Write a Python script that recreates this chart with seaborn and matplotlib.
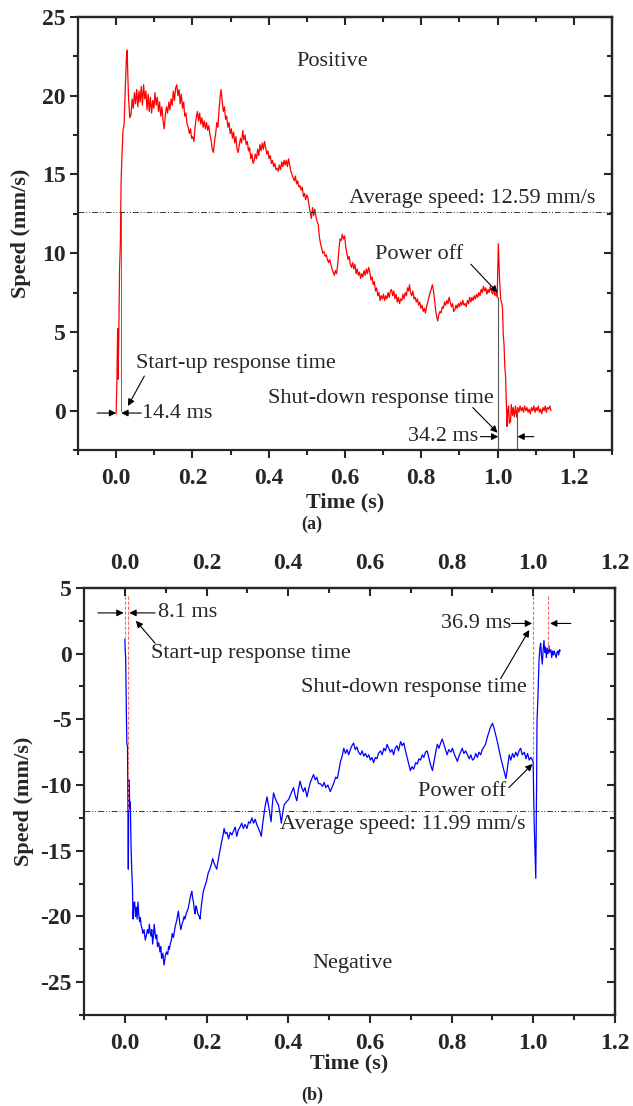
import matplotlib
matplotlib.use('Agg')
import matplotlib.pyplot as plt
from matplotlib.ticker import MultipleLocator
import seaborn as sns

# positive run (red)
red_t = [0.000, 0.002, 0.004, 0.005, 0.007, 0.009, 0.011, 0.013, 0.015, 0.018, 0.021, 0.024, 0.027, 0.029, 0.031,
         0.033, 0.036, 0.039, 0.042, 0.045, 0.048, 0.051, 0.054, 0.057, 0.060, 0.063, 0.066, 0.069, 0.072, 0.075,
         0.078, 0.081, 0.084, 0.087, 0.090, 0.093, 0.096, 0.099, 0.102, 0.105, 0.108, 0.111, 0.114, 0.117, 0.120,
         0.123, 0.126, 0.129, 0.132, 0.135, 0.138, 0.141, 0.144, 0.147, 0.150, 0.153, 0.156, 0.159, 0.162, 0.165,
         0.168, 0.171, 0.174, 0.177, 0.180, 0.183, 0.186, 0.189, 0.192, 0.195, 0.198, 0.201, 0.204, 0.207, 0.210,
         0.213, 0.216, 0.219, 0.222, 0.225, 0.228, 0.231, 0.234, 0.237, 0.240, 0.243, 0.246, 0.249, 0.252, 0.255,
         0.258, 0.261, 0.264, 0.267, 0.270, 0.273, 0.275, 0.278, 0.281, 0.284, 0.287, 0.290, 0.293, 0.296, 0.299,
         0.302, 0.305, 0.308, 0.311, 0.314, 0.317, 0.320, 0.323, 0.326, 0.329, 0.332, 0.335, 0.338, 0.341, 0.344,
         0.347, 0.350, 0.353, 0.356, 0.359, 0.362, 0.365, 0.368, 0.371, 0.374, 0.377, 0.380, 0.383, 0.386, 0.389,
         0.392, 0.395, 0.398, 0.401, 0.404, 0.407, 0.410, 0.413, 0.416, 0.419, 0.422, 0.425, 0.428, 0.431, 0.434,
         0.437, 0.440, 0.443, 0.446, 0.449, 0.452, 0.455, 0.458, 0.461, 0.464, 0.467, 0.470, 0.473, 0.476, 0.479,
         0.482, 0.485, 0.488, 0.491, 0.494, 0.497, 0.500, 0.503, 0.506, 0.509, 0.512, 0.515, 0.518, 0.521, 0.524,
         0.527, 0.530, 0.533, 0.536, 0.539, 0.542, 0.545, 0.548, 0.551, 0.554, 0.557, 0.560, 0.563, 0.566, 0.569,
         0.572, 0.575, 0.578, 0.581, 0.584, 0.587, 0.590, 0.593, 0.596, 0.599, 0.602, 0.605, 0.608, 0.611, 0.614,
         0.617, 0.620, 0.623, 0.626, 0.629, 0.632, 0.635, 0.638, 0.641, 0.644, 0.647, 0.650, 0.653, 0.656, 0.659,
         0.662, 0.665, 0.668, 0.671, 0.674, 0.677, 0.680, 0.683, 0.686, 0.689, 0.692, 0.695, 0.698, 0.701, 0.704,
         0.707, 0.710, 0.713, 0.716, 0.719, 0.722, 0.725, 0.728, 0.731, 0.734, 0.737, 0.740, 0.743, 0.746, 0.749,
         0.752, 0.755, 0.758, 0.761, 0.764, 0.767, 0.769, 0.772, 0.775, 0.778, 0.781, 0.784, 0.787, 0.790, 0.793,
         0.796, 0.799, 0.802, 0.805, 0.808, 0.811, 0.814, 0.817, 0.820, 0.823, 0.826, 0.829, 0.832, 0.835, 0.838,
         0.841, 0.843, 0.846, 0.849, 0.852, 0.855, 0.858, 0.861, 0.864, 0.867, 0.870, 0.873, 0.876, 0.879, 0.882,
         0.885, 0.888, 0.891, 0.894, 0.897, 0.900, 0.903, 0.906, 0.909, 0.912, 0.915, 0.918, 0.921, 0.924, 0.927,
         0.930, 0.933, 0.936, 0.939, 0.942, 0.945, 0.948, 0.951, 0.954, 0.957, 0.960, 0.963, 0.966, 0.969, 0.972,
         0.975, 0.978, 0.981, 0.984, 0.987, 0.990, 0.993, 0.996, 0.999, 1.002, 1.005, 1.008, 1.011, 1.013, 1.015,
         1.017, 1.019, 1.021, 1.023, 1.025, 1.027, 1.029, 1.031, 1.034, 1.036, 1.039, 1.041, 1.044, 1.047, 1.050,
         1.053, 1.056, 1.059, 1.062, 1.065, 1.068, 1.071, 1.074, 1.077, 1.080, 1.083, 1.086, 1.089, 1.092, 1.095,
         1.098, 1.101, 1.104, 1.107, 1.110, 1.113, 1.116, 1.119, 1.122, 1.125, 1.128, 1.131, 1.134, 1.137, 1.140]
red_v = [-0.2, 1.8, 5.2, 2.0, 4.8, 9.0, 10.5, 14.5, 16.0, 17.8, 18.2, 20.5, 22.4, 22.9, 21.0,
         19.6, 18.6, 18.8, 19.8, 19.2, 20.2, 19.5, 20.4, 19.3, 20.3, 19.6, 20.6, 19.4, 20.7, 19.8,
         20.3, 19.1, 20.1, 19.0, 19.9, 18.9, 19.7, 19.2, 20.2, 19.4, 19.9, 19.0, 19.6, 18.7, 19.3,
         18.4, 17.9, 18.8, 19.3, 18.9, 19.6, 19.1, 19.8, 19.4, 20.3, 19.7, 20.5, 20.7, 20.0, 20.4,
         19.5, 20.1, 19.2, 19.6, 18.7, 18.9, 18.2, 18.0, 17.6, 17.9, 17.3, 17.4, 17.1, 18.0, 18.6,
         19.0, 18.4, 18.9, 18.2, 18.6, 18.0, 18.4, 17.9, 18.3, 17.8, 18.1, 17.5, 17.2, 16.6, 16.4,
         17.1, 17.6, 18.3, 18.0, 19.2, 20.0, 20.4, 19.7, 19.0, 19.3, 18.5, 18.7, 18.0, 18.3, 17.6,
         17.9, 17.3, 17.7, 17.0, 17.4, 16.6, 16.4, 16.9, 17.3, 17.0, 17.8, 17.2, 17.5, 16.9, 17.1,
         16.5, 16.7, 16.0, 16.3, 15.7, 15.9, 16.3, 16.0, 16.6, 16.2, 16.9, 16.5, 17.0, 16.6, 17.1,
         16.7, 16.3, 16.5, 16.0, 16.2, 15.7, 15.9, 15.5, 15.7, 15.3, 15.4, 15.2, 15.6, 15.3, 15.8,
         15.5, 15.9, 15.6, 15.9, 15.5, 16.0, 15.6, 15.2, 15.0, 14.8, 14.6, 14.9, 14.4, 14.6, 14.2,
         14.3, 14.0, 14.2, 13.6, 13.8, 13.4, 13.7, 13.5, 13.0, 12.6, 12.2, 12.9, 12.4, 12.8, 12.3,
         12.0, 11.8, 11.0, 10.6, 10.3, 10.0, 10.1, 9.8, 9.9, 9.6, 9.4, 9.6, 9.3, 9.0, 8.8,
         8.6, 8.9, 8.7, 9.3, 10.2, 10.9, 10.8, 11.2, 10.9, 11.1, 10.4, 10.0, 9.6, 9.8, 9.3,
         9.1, 9.4, 9.0, 9.3, 8.7, 9.0, 8.6, 8.8, 8.4, 8.7, 8.5, 8.9, 8.6, 9.0, 8.7,
         9.1, 8.8, 8.3, 8.5, 8.0, 8.2, 7.6, 7.8, 7.3, 7.5, 7.0, 7.3, 7.1, 7.4, 7.0,
         7.3, 7.1, 7.5, 7.2, 7.6, 7.7, 7.3, 7.6, 7.1, 7.4, 6.9, 7.2, 6.8, 7.1, 7.0,
         7.4, 7.1, 7.5, 7.3, 7.8, 7.6, 8.0, 7.5, 7.3, 7.6, 7.1, 7.2, 6.9, 7.1, 6.7,
         6.9, 6.5, 6.7, 6.3, 6.5, 6.2, 6.6, 6.9, 7.2, 7.5, 7.7, 8.0, 7.6, 7.0, 6.3,
         5.9, 5.7, 6.1, 6.3, 6.2, 6.6, 6.5, 6.9, 6.7, 7.0, 6.8, 7.2, 6.9, 6.6, 6.8,
         6.3, 6.4, 6.7, 6.5, 6.8, 6.6, 6.9, 6.7, 7.0, 6.7, 6.8, 6.6, 7.0, 6.8, 7.2,
         6.9, 7.2, 7.0, 7.3, 7.1, 7.4, 7.2, 7.5, 7.3, 7.7, 7.5, 7.9, 7.6, 7.8, 7.4,
         7.7, 7.5, 7.9, 7.6, 7.4, 7.7, 7.3, 7.5, 7.2, 10.6, 8.5, 7.1, 6.8, 6.5, 4.8,
         4.2, 2.8, 2.2, 0.7, -1.0, 0.0, 0.3, -0.8, -0.7, 0.4, -0.3, 0.2, -0.4, 0.3, -0.4,
         0.2, -0.1, 0.3, 0.0, 0.2, -0.1, 0.3, 0.0, 0.2, -0.1, 0.1, -0.2, 0.2, 0.0, 0.3,
         -0.1, 0.2, 0.0, 0.3, -0.1, 0.1, -0.2, 0.2, 0.0, 0.3, -0.1, 0.2, 0.1, 0.3, 0.0]

# negative run (blue)
blue_t = [0.000, 0.001, 0.002, 0.003, 0.004, 0.005, 0.0065, 0.0075, 0.0085, 0.0092, 0.0097, 0.0105, 0.011, 0.012,
          0.0135, 0.015, 0.017, 0.0188, 0.020, 0.022, 0.024, 0.026, 0.028, 0.030, 0.032, 0.034, 0.036, 0.038, 0.040,
          0.042, 0.044, 0.047, 0.050, 0.053, 0.055, 0.058, 0.060, 0.062, 0.064, 0.066, 0.068, 0.070, 0.072, 0.074,
          0.076, 0.078, 0.080, 0.083, 0.086, 0.088, 0.090, 0.093, 0.096, 0.099, 0.102, 0.105, 0.107, 0.109, 0.111,
          0.114, 0.116, 0.119, 0.123, 0.127, 0.131, 0.134, 0.137, 0.140, 0.142, 0.145, 0.147, 0.151, 0.155, 0.158,
          0.160, 0.162, 0.164, 0.166, 0.168, 0.170, 0.172, 0.174, 0.176, 0.178, 0.180, 0.182, 0.184, 0.188, 0.192,
          0.196, 0.200, 0.204, 0.208, 0.212, 0.215, 0.218, 0.222, 0.225, 0.228, 0.231, 0.234, 0.237, 0.240, 0.243,
          0.246, 0.250, 0.254, 0.258, 0.262, 0.266, 0.270, 0.274, 0.278, 0.282, 0.286, 0.290, 0.294, 0.299, 0.303,
          0.307, 0.311, 0.315, 0.319, 0.323, 0.327, 0.331, 0.334, 0.338, 0.343, 0.348, 0.353, 0.358, 0.361, 0.364,
          0.368, 0.372, 0.376, 0.380, 0.383, 0.387, 0.390, 0.395, 0.401, 0.406, 0.410, 0.413, 0.417, 0.421, 0.425,
          0.429, 0.433, 0.437, 0.441, 0.446, 0.450, 0.454, 0.458, 0.462, 0.466, 0.470, 0.474, 0.479, 0.484, 0.488,
          0.492, 0.497, 0.503, 0.508, 0.512, 0.516, 0.520, 0.524, 0.528, 0.532, 0.536, 0.540, 0.544, 0.548, 0.552,
          0.556, 0.560, 0.564, 0.568, 0.572, 0.577, 0.581, 0.585, 0.589, 0.593, 0.597, 0.601, 0.605, 0.609, 0.613,
          0.617, 0.621, 0.626, 0.630, 0.634, 0.638, 0.642, 0.646, 0.650, 0.654, 0.658, 0.662, 0.666, 0.670, 0.675,
          0.679, 0.683, 0.687, 0.691, 0.695, 0.699, 0.703, 0.707, 0.712, 0.716, 0.720, 0.724, 0.728, 0.732, 0.736,
          0.740, 0.744, 0.748, 0.753, 0.757, 0.761, 0.765, 0.769, 0.773, 0.777, 0.781, 0.785, 0.789, 0.793, 0.798,
          0.802, 0.806, 0.810, 0.814, 0.818, 0.822, 0.826, 0.830, 0.834, 0.839, 0.843, 0.847, 0.851, 0.855, 0.859,
          0.863, 0.867, 0.871, 0.875, 0.879, 0.883, 0.887, 0.891, 0.895, 0.900, 0.904, 0.908, 0.912, 0.916, 0.920,
          0.924, 0.928, 0.933, 0.937, 0.941, 0.945, 0.949, 0.953, 0.957, 0.961, 0.965, 0.969, 0.973, 0.978, 0.982,
          0.986, 0.990, 0.994, 0.9995, 1.002, 1.006, 1.008, 1.009, 1.011, 1.013, 1.014, 1.016, 1.018, 1.020, 1.022,
          1.024, 1.026, 1.028, 1.030, 1.032, 1.034, 1.036, 1.038, 1.040, 1.043, 1.045, 1.047, 1.049, 1.051, 1.053,
          1.056, 1.058, 1.060, 1.062, 1.064, 1.066]
blue_v = [1.1, 0.2, -0.3, -3.0, -5.1, -6.9, -7.0, -12.0, -16.4, -12.0, -9.6, -11.5, -10.2, -11.8,
          -11.3, -14.5, -16.5, -17.9, -20.2, -19.0, -18.9, -20.0, -19.3, -20.2, -18.9, -19.8, -20.4, -20.1, -20.7,
          -20.9, -21.3, -21.0, -21.8, -21.4, -21.0, -21.3, -20.6, -21.2, -21.5, -21.0, -22.1, -21.5, -20.6, -21.3,
          -21.7, -21.4, -22.3, -22.0, -22.7, -22.3, -23.2, -22.8, -23.7, -23.0, -22.7, -22.9, -22.3, -22.5, -22.1,
          -21.8, -21.3, -21.6, -20.8, -20.3, -19.6, -20.4, -21.0, -20.6, -20.4, -20.0, -20.2, -19.7, -19.4, -18.9,
          -18.6, -18.3, -18.1, -18.6, -18.9, -19.5, -19.8, -19.2, -19.4, -19.7, -19.9, -20.0, -20.2, -19.0, -18.1,
          -17.7, -17.3, -16.7, -16.4, -16.0, -15.6, -15.9, -16.2, -16.4, -15.8, -15.3, -14.8, -14.3, -13.9, -13.3,
          -13.7, -13.6, -14.1, -13.6, -13.8, -13.5, -13.2, -13.9, -13.4, -13.2, -12.9, -13.3, -13.0, -13.3, -12.8,
          -12.9, -12.5, -12.9, -12.6, -13.0, -13.3, -13.6, -13.9, -12.8, -11.7, -10.9, -11.8, -12.8, -11.5, -10.6,
          -11.0, -11.3, -11.5, -12.2, -12.9, -12.0, -11.5, -11.3, -11.1, -10.7, -10.4, -10.2, -10.8, -11.2, -10.3,
          -9.7, -10.2, -10.5, -10.2, -10.9, -10.3, -9.8, -9.5, -9.2, -9.6, -9.4, -9.9, -9.9, -10.1, -9.8,
          -10.2, -10.0, -10.5, -10.1, -9.8, -9.4, -9.5, -8.9, -8.2, -7.8, -7.2, -7.6, -7.3, -7.7, -7.3,
          -7.0, -6.8, -7.3, -7.1, -7.5, -7.7, -7.4, -7.8, -7.6, -7.9, -7.7, -8.1, -7.9, -8.3, -7.9,
          -8.0, -7.6, -7.4, -7.7, -7.2, -7.4, -6.9, -7.2, -7.5, -7.3, -7.7, -7.2, -7.0, -7.4, -6.7,
          -7.0, -6.8, -7.4, -7.9, -8.4, -8.9, -8.6, -8.8, -8.3, -8.4, -8.0, -8.1, -7.7, -7.9, -7.5,
          -7.4, -7.9, -8.4, -8.9, -8.2, -7.5, -6.9, -7.2, -6.8, -6.5, -6.9, -7.3, -7.7, -7.3, -7.5,
          -7.2, -7.6, -7.9, -8.2, -7.8, -7.5, -7.2, -7.6, -7.4, -7.7, -8.0, -7.7, -8.1, -8.0, -7.6,
          -7.9, -7.5, -7.7, -7.3, -7.1, -6.9, -6.4, -6.0, -5.6, -5.3, -5.7, -6.2, -6.7, -7.3, -7.9,
          -8.4, -8.9, -9.5, -8.6, -7.7, -8.1, -7.6, -7.9, -7.5, -7.8, -7.4, -7.2, -7.7, -7.5, -8.0,
          -7.6, -8.1, -7.9, -8.2, -12.8, -17.1, -10.0, -5.1, -3.6, -1.5, -0.5, 0.4, 0.8, -0.2, -0.8,
          0.3, 1.0, 0.1, 0.5, -0.3, 0.4, 0.0, 0.6, 0.1, 0.3, -0.3, 0.2, -0.1, 0.2, 0.0,
          -0.3, 0.1, 0.2, -0.1, 0.3, 0.2]

avg_pos = 12.59
avg_neg = -11.99
x_ticks = [0.0, 0.2, 0.4, 0.6, 0.8, 1.0, 1.2]

sns.set_style('ticks')
plt.rcParams['font.family'] = ['Liberation Serif', 'DejaVu Serif']
plt.rcParams['axes.linewidth'] = 1.6
plt.rcParams['axes.unicode_minus'] = False

fig = plt.figure(figsize=(6.33, 11.06), dpi=100)
ax1 = fig.add_axes([0.1232, 0.5931, 0.8436, 0.3915])
ax2 = fig.add_axes([0.1327, 0.0823, 0.8389, 0.3861])

TXT = 16
TICK = 17


def style_axes(ax, xlim, ylim, top_labels):
    ax.set_xlim(*xlim)
    ax.set_ylim(*ylim)
    ax.set_xticks(x_ticks)
    ax.xaxis.set_minor_locator(MultipleLocator(0.1))
    ax.yaxis.set_major_locator(MultipleLocator(5))
    ax.yaxis.set_minor_locator(MultipleLocator(2.5))
    ax.tick_params(which='both', direction='out', width=1.5, top=False, right=False)
    ax.tick_params(which='major', length=6)
    ax.tick_params(which='minor', length=3.5)
    ax.tick_params(axis='x', pad=7)
    ax.tick_params(axis='y', pad=3)
    for lab in ax.get_xticklabels() + ax.get_yticklabels():
        lab.set_fontweight('bold')
        lab.set_fontsize(TICK)
    # opposite sides: inward ticks
    sx = ax.secondary_xaxis('top')
    sx.set_xticks(x_ticks)
    sx.xaxis.set_minor_locator(MultipleLocator(0.1))
    sx.tick_params(which='both', direction='in', width=1.5, labeltop=top_labels, pad=10)
    sx.tick_params(which='major', length=6)
    sx.tick_params(which='minor', length=3.5)
    if top_labels:
        for lab in sx.get_xticklabels():
            lab.set_fontweight('bold')
            lab.set_fontsize(TICK)
    sy = ax.secondary_yaxis('right')
    sy.yaxis.set_major_locator(MultipleLocator(5))
    sy.yaxis.set_minor_locator(MultipleLocator(2.5))
    sy.tick_params(which='both', direction='in', width=1.5, labelright=False)
    sy.tick_params(which='major', length=6)
    sy.tick_params(which='minor', length=3.5)
    ax.set_xlabel('Time (s)', fontsize=TXT, fontweight='bold')
    ax.set_ylabel('Speed (mm/s)', fontsize=TXT, fontweight='bold')


arrow = dict(arrowstyle='-|>', color='black', lw=0.8, mutation_scale=10, shrinkA=0, shrinkB=0)

# ---- panel (a) ----
sns.lineplot(x=red_t, y=red_v, ax=ax1, color='#ff0000', linewidth=0.9, estimator=None, sort=False)
style_axes(ax1, (-0.1, 1.3), (-2.5, 25), False)
ax1.axhline(avg_pos, color='#333333', lw=0.7, ls=(0, (6, 2, 1, 2, 1, 2)))
ax1.text(0.61, 12.85, 'Average speed: 12.59 mm/s', fontsize=TXT, ha='left', va='bottom')
ax1.text(0.567, 22.2, 'Positive', fontsize=TXT, ha='center', va='center')
ax1.text(0.795, 9.9, 'Power off', fontsize=TXT, ha='center', va='center')
ax1.annotate('', xy=(1.0, 7.5), xytext=(0.93, 9.3), arrowprops=arrow)
ax1.text(0.052, 3.0, 'Start-up response time', fontsize=TXT, ha='left', va='center')
ax1.annotate('', xy=(0.031, 0.3), xytext=(0.074, 2.2), arrowprops=arrow)
ax1.plot([0.0135, 0.0135], [0, avg_pos], color='#555555', lw=0.6)
ax1.annotate('', xy=(0.0, -0.15), xytext=(-0.05, -0.15), arrowprops=arrow)
ax1.annotate('', xy=(0.0135, -0.15), xytext=(0.066, -0.15), arrowprops=arrow)
ax1.text(0.068, -0.15, '14.4 ms', fontsize=TXT, ha='left', va='center')
ax1.text(0.99, 0.8, 'Shut-down response time', fontsize=TXT, ha='right', va='center')
ax1.annotate('', xy=(1.0, -1.4), xytext=(0.935, 0.2), arrowprops=arrow)
ax1.plot([1.002, 1.002], [ax1.get_ylim()[0], 7.2], color='#555555', lw=0.8)
ax1.plot([1.052, 1.052], [ax1.get_ylim()[0], 0.2], color='#555555', lw=0.8)
ax1.annotate('', xy=(1.002, -1.65), xytext=(0.955, -1.65), arrowprops=arrow)
ax1.annotate('', xy=(1.052, -1.65), xytext=(1.095, -1.65), arrowprops=arrow)
ax1.text(0.95, -1.65, '34.2 ms', fontsize=TXT, ha='right', va='center')
ax1.xaxis.set_label_coords(0.5, -0.097)
ax1.yaxis.set_label_coords(-0.088, 0.5)

# ---- panel (b) ----
sns.lineplot(x=blue_t, y=blue_v, ax=ax2, color='#0000ff', linewidth=0.9, estimator=None, sort=False)
style_axes(ax2, (-0.1, 1.2), (-27.5, 5), True)
ax2.axhline(avg_neg, color='#333333', lw=0.7, ls=(0, (6, 2, 1, 2, 1, 2)))
ax2.text(0.38, -12.3, 'Average speed: 11.99 mm/s', fontsize=TXT, ha='left', va='top')
ax2.text(0.557, -23.6, 'Negative', fontsize=TXT, ha='center', va='center')
ax2.text(0.825, -10.5, 'Power off', fontsize=TXT, ha='center', va='center')
ax2.annotate('', xy=(0.998, -8.4), xytext=(0.94, -10.2), arrowprops=arrow)
red_dash = dict(color='#ff6666', lw=0.8, ls=(0, (3, 1.5)))
ax2.plot([0.0, 0.0], [4.4, 1.0], **red_dash)
ax2.plot([0.0081, 0.0081], [4.4, avg_neg], **red_dash)
ax2.plot([1.0, 1.0], [4.4, -8.2], **red_dash)
ax2.plot([1.0369, 1.0369], [4.4, 0.2], **red_dash)
ax2.annotate('', xy=(-0.003, 3.1), xytext=(-0.066, 3.1), arrowprops=arrow)
ax2.annotate('', xy=(0.011, 3.1), xytext=(0.074, 3.1), arrowprops=arrow)
ax2.text(0.08, 3.1, '8.1 ms', fontsize=TXT, ha='left', va='center')
ax2.text(0.065, 0.0, 'Start-up response time', fontsize=TXT, ha='left', va='center')
ax2.annotate('', xy=(0.027, 2.5), xytext=(0.074, 0.8), arrowprops=arrow)
ax2.annotate('', xy=(0.997, 2.3), xytext=(0.947, 2.3), arrowprops=arrow)
ax2.annotate('', xy=(1.041, 2.3), xytext=(1.092, 2.3), arrowprops=arrow)
ax2.text(0.945, 2.3, '36.9 ms', fontsize=TXT, ha='right', va='center')
ax2.text(0.985, -2.6, 'Shut-down response time', fontsize=TXT, ha='right', va='center')
ax2.annotate('', xy=(0.990, 1.8), xytext=(0.92, -1.9), arrowprops=arrow)
ax2.xaxis.set_label_coords(0.5, -0.090)
ax2.yaxis.set_label_coords(-0.094, 0.5)

fig.text(312 / 633, 1 - 524 / 1106, '(a)', fontsize=13, fontweight='bold', ha='center', va='center')
fig.text(312 / 633, 1 - 1095 / 1106, '(b)', fontsize=13, fontweight='bold', ha='center', va='center')

fig.savefig('out.png', dpi=100)
